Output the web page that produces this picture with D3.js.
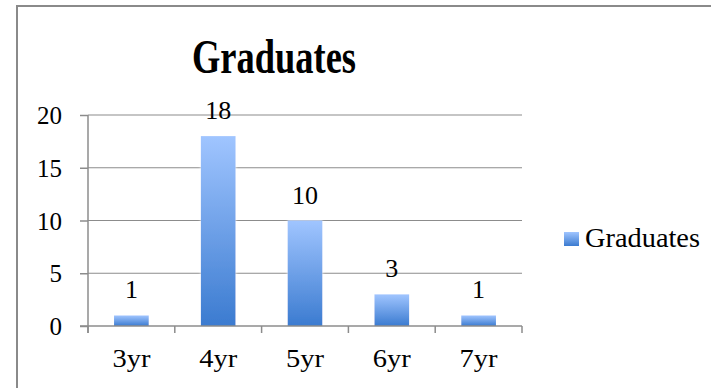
<!DOCTYPE html>
<html>
<head>
<meta charset="utf-8">
<script src="https://cdn.jsdelivr.net/npm/d3@7"></script>
<style>
  html, body { margin: 0; padding: 0; background: #fff; }
  svg { display: block; }
  text { font-family: "Liberation Serif", "DejaVu Serif", serif; fill: #000; }
</style>
</head>
<body>
<svg id="chart" width="711" height="388"></svg>
<script>
// Graduates by years to completion
const categories = ["3yr", "4yr", "5yr", "6yr", "7yr"];
const graduates = [1, 18, 10, 3, 1];
const yTicks = [0, 5, 10, 15, 20];
const seriesName = "Graduates";
const chartTitle = "Graduates";

const svg = d3.select("#chart");

// Chart frame
svg.append("rect")
  .attr("x", 17).attr("y", 6)
  .attr("width", 720).attr("height", 400)
  .attr("fill", "#fff")
  .attr("stroke", "#8a8a8a")
  .attr("stroke-width", 2);

const defs = svg.append("defs");
const grad = defs.append("linearGradient")
  .attr("id", "barFill").attr("x1", 0).attr("y1", 0).attr("x2", 0).attr("y2", 1);
grad.append("stop").attr("offset", "0%").attr("stop-color", "#a0c5ff");
grad.append("stop").attr("offset", "100%").attr("stop-color", "#3b7bd0");

const shadow = defs.append("filter").attr("id", "barShadow")
  .attr("x", "-30%").attr("y", "-30%").attr("width", "160%").attr("height", "160%");
shadow.append("feGaussianBlur").attr("in", "SourceAlpha").attr("stdDeviation", 1.5).attr("result", "b");
shadow.append("feFlood").attr("flood-color", "#ffffff").attr("flood-opacity", 0.9);
shadow.append("feComposite").attr("in2", "b").attr("operator", "in").attr("result", "glow");
const merge = shadow.append("feMerge");
merge.append("feMergeNode").attr("in", "glow");
merge.append("feMergeNode").attr("in", "SourceGraphic");

const plot = { left: 88, right: 522, top: 115, bottom: 326 };

const x = d3.scaleBand()
  .domain(categories)
  .range([plot.left, plot.right])
  .paddingInner(0.6)
  .paddingOuter(0.3);

const y = d3.scaleLinear()
  .domain([0, 20])
  .range([plot.bottom, plot.top]);

const gridColor = "#8c8c8c";

// Horizontal gridlines
svg.append("g")
  .selectAll("line")
  .data(yTicks.filter(d => d > 0))
  .join("line")
  .attr("x1", plot.left).attr("x2", plot.right)
  .attr("y1", d => y(d)).attr("y2", d => y(d))
  .attr("stroke", gridColor).attr("stroke-width", 1.2);

// Bars
svg.append("g")
  .selectAll("rect")
  .data(graduates)
  .join("rect")
  .attr("x", (d, i) => x(categories[i]))
  .attr("y", d => y(d))
  .attr("width", x.bandwidth())
  .attr("height", d => y(0) - y(d))
  .attr("fill", "url(#barFill)")
  .attr("filter", "url(#barShadow)");

// Value labels
svg.append("g")
  .selectAll("text")
  .data(graduates)
  .join("text")
  .attr("x", (d, i) => x(categories[i]) + x.bandwidth() / 2)
  .attr("y", d => y(d) - 17)
  .attr("text-anchor", "middle")
  .attr("font-size", 26)
  .text(d => d);

// Y axis
const yAxis = svg.append("g")
  .attr("transform", `translate(${plot.left},0)`)
  .call(d3.axisLeft(y).tickValues(yTicks).tickSize(8).tickPadding(18).tickSizeOuter(0));
yAxis.select(".domain").attr("stroke", gridColor).attr("stroke-width", 1.5)
  .attr("d", `M0,${plot.top}V${plot.bottom + 7}`);
yAxis.selectAll(".tick line").attr("stroke", gridColor).attr("stroke-width", 1.5);
yAxis.selectAll(".tick text")
  .attr("font-size", 25)
  .attr("font-family", "Liberation Serif, DejaVu Serif, serif")
  .attr("fill", "#000")
  .attr("dy", "0.34em");

// X axis with ticks at category boundaries
const xAxis = svg.append("g").attr("transform", `translate(0,${plot.bottom})`);
xAxis.append("line")
  .attr("x1", plot.left - 8).attr("x2", plot.right)
  .attr("y1", 0).attr("y2", 0)
  .attr("stroke", gridColor).attr("stroke-width", 1.5);
const step = x.step();
xAxis.selectAll("line.bound")
  .data(d3.range(categories.length + 1))
  .join("line")
  .attr("class", "bound")
  .attr("x1", i => plot.left + i * step).attr("x2", i => plot.left + i * step)
  .attr("y1", 0).attr("y2", 7)
  .attr("stroke", gridColor).attr("stroke-width", 1.5);
xAxis.selectAll("text.cat")
  .data(categories)
  .join("text")
  .attr("class", "cat")
  .attr("x", d => x(d) + x.bandwidth() / 2)
  .attr("y", 41)
  .attr("text-anchor", "middle")
  .attr("font-size", 26)
  .attr("textLength", 38)
  .attr("lengthAdjust", "spacingAndGlyphs")
  .text(d => d);

// Title
svg.append("text")
  .attr("x", 274).attr("y", 73)
  .attr("text-anchor", "middle")
  .attr("font-size", 48)
  .attr("font-weight", "bold")
  .attr("textLength", 164)
  .attr("lengthAdjust", "spacingAndGlyphs")
  .text(chartTitle);

// Legend
const legend = svg.append("g").attr("transform", "translate(564,232)");
legend.append("rect")
  .attr("width", 15).attr("height", 14)
  .attr("fill", "url(#barFill)");
legend.append("text")
  .attr("x", 21).attr("y", 15)
  .attr("font-size", 28)
  .attr("textLength", 115)
  .attr("lengthAdjust", "spacingAndGlyphs")
  .text(seriesName);
</script>
</body>
</html>
